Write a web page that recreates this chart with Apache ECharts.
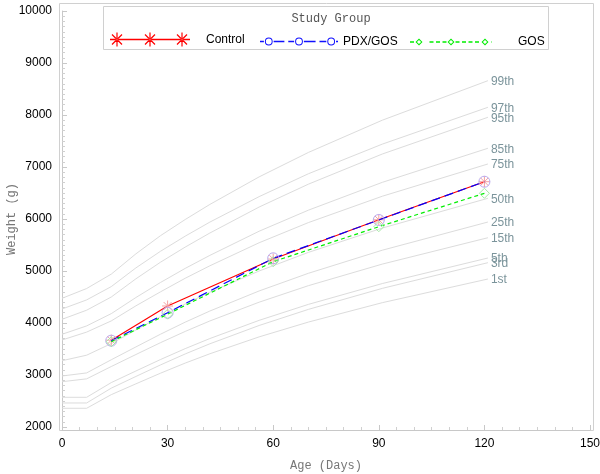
<!DOCTYPE html>
<html>
<head>
<meta charset="utf-8">
<script src="https://cdn.jsdelivr.net/npm/echarts@6/dist/echarts.min.js"></script>
<style>
html,body{margin:0;padding:0;background:#fff;}
#chart{width:600px;height:474px;}
</style>
</head>
<body>
<div id="chart"></div>
<script>
// Percentile reference curves (age in days, weight in g)
const pctDays = [0, 7, 14, 21, 28, 35, 42, 56, 70, 91, 121];
const pctNames = ['99th', '97th', '95th', '85th', '75th', '50th', '25th', '15th', '5th', '3rd', '1st'];
const p99 = [4475, 4663, 4940, 5330, 5680, 5990, 6280, 6810, 7280, 7900, 8660];
const p97 = [4269, 4444, 4700, 5060, 5380, 5670, 5940, 6430, 6870, 7440, 8148];
const p95 = [4071, 4246, 4500, 4850, 5170, 5460, 5730, 6230, 6670, 7250, 7956];
const p85 = [3783, 3944, 4180, 4490, 4780, 5050, 5300, 5765, 6170, 6705, 7360];
const p75 = [3673, 3825, 4040, 4330, 4600, 4860, 5100, 5543, 5931, 6438, 7058];
const p50 = [3275, 3381, 3604, 3865, 4123, 4366, 4592, 5000, 5358, 5826, 6398];
const p25 = [2981, 3040, 3293, 3540, 3785, 4016, 4230, 4616, 4956, 5400, 5942];
const p15 = [2871, 2926, 3163, 3394, 3622, 3838, 4039, 4400, 4718, 5133, 5640];
const p5  = [2571, 2571, 2854, 3077, 3298, 3507, 3701, 4051, 4358, 4759, 5250];
const p3  = [2462, 2462, 2747, 2972, 3194, 3405, 3600, 3952, 4262, 4666, 5160];
const p1  = [2360, 2360, 2622, 2830, 3035, 3229, 3408, 3733, 4018, 4391, 4846];
const pctValues = [p99, p97, p95, p85, p75, p50, p25, p15, p5, p3, p1];

// Study groups
const groupDays = [14, 30, 60, 90, 120];
const groupNames = ['Control', 'PDX/GOS', 'GOS'];
const control = [3670, 4327, 5230, 5985, 6717];
const pdxGos  = [3660, 4198, 5244, 5981, 6717];
const gos     = [3640, 4170, 5179, 5852, 6494];

// Axis ticks
const xTicks = [0, 30, 60, 90, 120, 150];
const yTicks = [2000, 3000, 4000, 5000, 6000, 7000, 8000, 9000, 10000];

// ---------- legend icon helpers (styling only) ----------
function bar(x0, x1, yc, t) {
  return `M${x0},${yc - t / 2}L${x1},${yc - t / 2}L${x1},${yc + t / 2}L${x0},${yc + t / 2}Z`;
}
function seg(x0, y0, x1, y1, t) {
  const dx = x1 - x0, dy = y1 - y0, len = Math.hypot(dx, dy);
  const nx = -dy / len * t / 2, ny = dx / len * t / 2;
  return `M${x0 + nx},${y0 + ny}L${x1 + nx},${y1 + ny}L${x1 - nx},${y1 - ny}L${x0 - nx},${y0 - ny}Z`;
}
function ring(cx, cy, r, t) {
  const ri = r - t;
  return `M${cx + r},${cy}A${r},${r} 0 1,1 ${cx - r},${cy}A${r},${r} 0 1,1 ${cx + r},${cy}Z` +
         `M${cx + ri},${cy}A${ri},${ri} 0 1,0 ${cx - ri},${cy}A${ri},${ri} 0 1,0 ${cx + ri},${cy}Z`;
}
function diamondRing(cx, cy, r, t) {
  const ri = r - t * 1.4;
  return `M${cx},${cy - r}L${cx + r},${cy}L${cx},${cy + r}L${cx - r},${cy}Z` +
         `M${cx},${cy - ri}L${cx - ri},${cy}L${cx},${cy + ri}L${cx + ri},${cy}Z`;
}
function asterisk(c, h) {
  return seg(c, 0, c, h, 1.2) + seg(c - 5, 2, c + 5, h - 2, 1.2) + seg(c - 5, h - 2, c + 5, 2, 1.2);
}
function dashedBar(x0, x1, yc, on, off, t, skips, skipR) {
  let p = '';
  for (let x = x0; x < x1; x += on + off) {
    let a = x, b = Math.min(x + on, x1);
    let ok = true;
    for (const s of skips) { if (b > s - skipR && a < s + skipR) { ok = false; } }
    if (ok) p += bar(a, b, yc, t);
  }
  return p;
}
const iconControl = 'path://' + bar(0, 80, 7, 1.4) + asterisk(7, 14) + asterisk(40, 14) + asterisk(72, 14);
const iconPdx = 'path://' + bar(0, 4, 4, 1.5) + bar(14, 25, 4, 1.5) + bar(29, 35, 4, 1.5) +
  bar(45, 57, 4, 1.5) + bar(61, 68, 4, 1.5) + bar(78, 80, 4, 1.5) +
  ring(9, 4, 4, 1) + ring(40, 4, 4, 1) + ring(73, 4, 4, 1);
const iconGos = 'path://' + bar(0, 0.5, 3.5, 1.5) + bar(81.5, 82, 3.5, 1.5) +
  dashedBar(0, 82, 3.5, 4, 2.5, 1.6, [9, 41, 75], 4.5) +
  diamondRing(9, 3.5, 3.5, 1) + diamondRing(41, 3.5, 3.5, 1) + diamondRing(75, 3.5, 3.5, 1);

const starPath = 'path://M0,-10L0,10M-10,0L10,0M-7.07,-7.07L7.07,7.07M-7.07,7.07L7.07,-7.07';

const chart = echarts.init(document.getElementById('chart'), null, {renderer: 'canvas'});

const pctSeries = pctNames.map((nm, i) => ({
  name: nm,
  type: 'line',
  data: pctDays.map((d, j) => [d, pctValues[i][j]]),
  symbol: 'none',
  silent: true,
  lineStyle: {color: '#dcdcdc', width: 1},
  z: 1,
  endLabel: {
    show: true,
    formatter: nm,
    color: '#7b949b',
    fontFamily: 'Liberation Sans, Arial, sans-serif',
    fontSize: 12,
    distance: 3,
    offset: [0, 1]
  },
  emphasis: {disabled: true}
}));

const groupValues = [control, pdxGos, gos];
const groupStyles = [
  {line: {color: '#ff0000', width: 1.2, type: 'solid'}, symbol: starPath, size: 11,
   item: {color: 'none', borderColor: '#f5a0a0', borderWidth: 1}},
  {line: {color: '#0000ff', width: 1.2, type: [9, 5]}, symbol: 'circle', size: 11,
   item: {color: 'rgba(0,0,0,0)', borderColor: '#b8a8ee', borderWidth: 1}},
  {line: {color: '#00ee00', width: 1.2, type: [4, 3]}, symbol: 'diamond', size: 10,
   item: {color: 'rgba(0,0,0,0)', borderColor: '#a6eaa6', borderWidth: 1}}
];

const groupSeries = groupNames.map((nm, i) => ({
  name: nm,
  type: 'line',
  data: groupDays.map((d, j) => [d, groupValues[i][j]]),
  symbol: groupStyles[i].symbol,
  symbolSize: groupStyles[i].size,
  showAllSymbol: true,
  lineStyle: groupStyles[i].line,
  itemStyle: Object.assign({}, groupStyles[i].item),
  z: 3 + i,
  emphasis: {disabled: true}
}));

const legendBase = {
  orient: 'horizontal',
  padding: 0,
  selectedMode: false,
  textStyle: {color: '#000', fontFamily: 'Liberation Sans, Arial, sans-serif', fontSize: 12}
};

const option = {
  animation: false,
  backgroundColor: '#fff',
  title: {
    text: 'Study Group',
    left: 326,
    top: 8,
    textAlign: 'center',
    textStyle: {fontFamily: 'Liberation Mono, Courier New, monospace', fontSize: 12, fontWeight: 'normal', color: '#555'}
  },
  legend: [
    Object.assign({}, legendBase, {
      left: 110, top: 32.5, itemWidth: 80, itemHeight: 14,
      data: [{name: 'Control', icon: iconControl, itemStyle: {color: '#ff0000', borderWidth: 0}}],
      textStyle: Object.assign({}, legendBase.textStyle, {padding: [0, 0, 0, 11]})
    }),
    Object.assign({}, legendBase, {
      left: 260, top: 35.5, itemWidth: 78, itemHeight: 8,
      data: [{name: 'PDX/GOS', icon: iconPdx, itemStyle: {color: '#1010ff', borderWidth: 0}}]
    }),
    Object.assign({}, legendBase, {
      left: 410, top: 36, itemWidth: 82, itemHeight: 7,
      data: [{name: 'GOS', icon: iconGos, itemStyle: {color: '#00ee00', borderWidth: 0}}],
      textStyle: Object.assign({}, legendBase.textStyle, {padding: [0, 0, 0, 21]})
    })
  ],
  grid: {left: 62, right: 10, top: 11, bottom: 47, containLabel: false, outerBoundsMode: 'none'},
  xAxis: {
    type: 'value',
    min: xTicks[0], max: xTicks[xTicks.length - 1], interval: 30,
    offset: 3,
    name: 'Age (Days)',
    nameLocation: 'middle',
    nameGap: 30,
    nameMoveOverlap: false,
    nameTextStyle: {fontFamily: 'Liberation Mono, Courier New, monospace', fontSize: 12, color: '#777'},
    axisLine: {show: true, lineStyle: {color: '#c8c8c8'}},
    axisTick: {show: true, inside: true, length: 5, lineStyle: {color: '#c8c8c8'}},
    minorTick: {show: true, splitNumber: 6, length: 3, lineStyle: {color: '#d0d0d0'}},
    splitLine: {show: false},
    axisLabel: {color: '#000', fontFamily: 'Liberation Sans, Arial, sans-serif', fontSize: 12, margin: 8,
      formatter: v => String(v)}
  },
  yAxis: {
    type: 'value',
    min: yTicks[0], max: yTicks[yTicks.length - 1], interval: 1000,
    offset: 3,
    name: 'Weight (g)',
    nameLocation: 'middle',
    nameGap: 41,
    nameRotate: 90,
    nameMoveOverlap: false,
    nameTextStyle: {fontFamily: 'Liberation Mono, Courier New, monospace', fontSize: 12, color: '#777'},
    axisLine: {show: true, lineStyle: {color: '#c8c8c8'}},
    axisTick: {show: true, inside: true, length: 5, lineStyle: {color: '#c8c8c8'}},
    minorTick: {show: true, splitNumber: 10, length: 3, lineStyle: {color: '#d0d0d0'}},
    splitLine: {show: false},
    axisLabel: {color: '#000', fontFamily: 'Liberation Sans, Arial, sans-serif', fontSize: 12, margin: 7,
      formatter: v => String(v)}
  },
  graphic: [
    {type: 'rect', shape: {x: 59.5, y: 3.5, width: 534, height: 427}, style: {fill: 'none', stroke: '#d0d0d0', lineWidth: 1}, silent: true, z: -1},
    {type: 'rect', shape: {x: 103.5, y: 6.5, width: 445, height: 43}, style: {fill: '#fff', stroke: '#d0d0d0', lineWidth: 1}, silent: true, z: 0}
  ],
  series: pctSeries.concat(groupSeries)
};

chart.setOption(option);
</script>
</body>
</html>
